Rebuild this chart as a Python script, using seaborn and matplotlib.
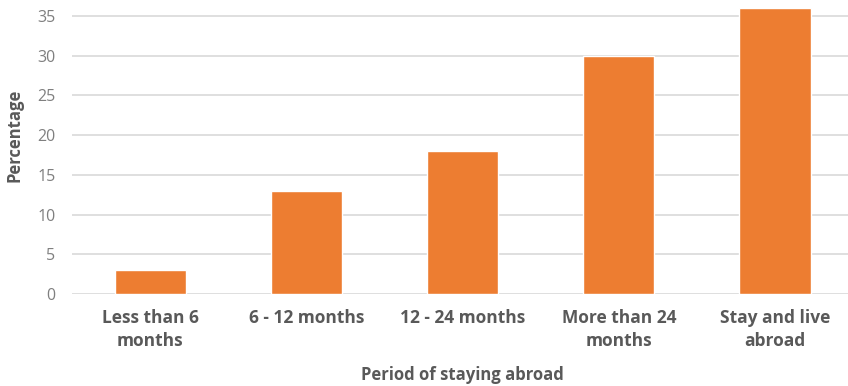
import matplotlib
matplotlib.use("Agg")
import matplotlib.pyplot as plt
import seaborn as sns
import pandas as pd

categories = ["Less than 6\nmonths", "6 - 12 months", "12 - 24 months", "More than 24\nmonths", "Stay and live\nabroad"]
values = [3, 13, 18, 30, 36]
yticks = [0, 5, 10, 15, 20, 25, 30, 35]

sns.set_theme(style="white")
plt.rcParams['font.family'] = ['Open Sans', 'DejaVu Sans']

df = pd.DataFrame({"Period": categories, "Percentage": values})

fig = plt.figure(figsize=(8.48, 3.86), dpi=100)
ax = fig.add_axes([0.085, 0.238, 0.921, 0.762])
sns.barplot(data=df, x="Period", y="Percentage", color="#ED7D31", saturation=1,
            width=0.455, ax=ax, zorder=3)
ax.set_ylim(0, 37)
ax.set_yticks(yticks)
ax.grid(axis="y", color="#D9D9D9", linewidth=1.2, zorder=0)
ax.set_axisbelow(True)
for s in ax.spines.values():
    s.set_visible(False)
ax.tick_params(axis="both", length=0)
ax.tick_params(axis="y", labelsize=11.5, labelcolor="#7F7F7F", pad=12)
ax.tick_params(axis="x", pad=11)
for lbl in ax.get_xticklabels():
    lbl.set_fontsize(12.5)
    lbl.set_fontweight("bold")
    lbl.set_color("#595959")
    lbl.set_linespacing(1.3)
ax.set_xlabel("Period of staying abroad", fontsize=12, fontweight="bold", color="#595959", labelpad=12)
ax.set_ylabel("Percentage", fontsize=12, fontweight="bold", color="#595959")
ax.yaxis.set_label_coords(-0.062, 0.54)
ax.set_xlim(-0.5, 4.5)
fig.savefig("out.png", dpi=100)
